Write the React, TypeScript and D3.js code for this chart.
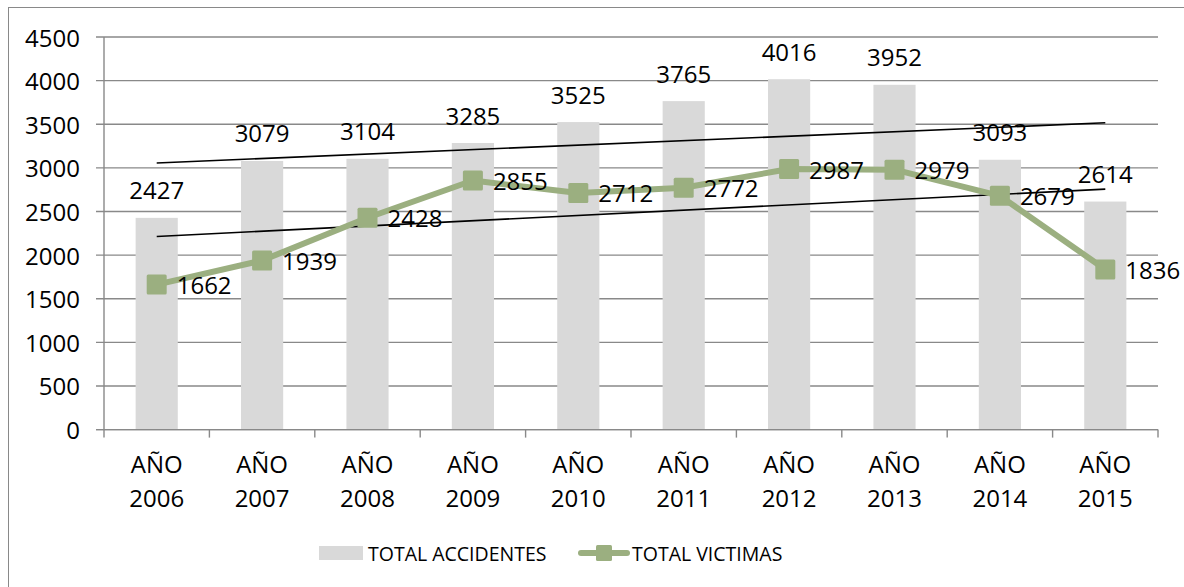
import React from "react";
import * as d3 from "d3";

const years = ["2006", "2007", "2008", "2009", "2010", "2011", "2012", "2013", "2014", "2015"];
const accidentes = [2427, 3079, 3104, 3285, 3525, 3765, 4016, 3952, 3093, 2614];
const victimas = [1662, 1939, 2428, 2855, 2712, 2772, 2987, 2979, 2679, 1836];
const yTicks = [0, 500, 1000, 1500, 2000, 2500, 3000, 3500, 4000, 4500];
const legendLabels = ["TOTAL ACCIDENTES", "TOTAL VICTIMAS"];

const W = 1184;
const H = 587;
const FONT = "'Open Sans', sans-serif";
const GRID = "#898989";
const BAR = "#D9D9D9";
const GREEN = "#9BAF80";

function regression(vals: number[]) {
  const n = vals.length;
  const xs = vals.map((_, i) => i + 1);
  const mx = d3.mean(xs)!;
  const my = d3.mean(vals)!;
  let sxy = 0, sxx = 0;
  xs.forEach((x, i) => {
    sxy += (x - mx) * (vals[i] - my);
    sxx += (x - mx) * (x - mx);
  });
  const slope = sxy / sxx;
  const b = my - slope * mx;
  return [b + slope * 1, b + slope * n];
}

export default function App() {
  const left = 104, right = 1158, top = 37, bottom = 429.6;
  const x = d3.scaleBand<string>().domain(years).range([left, right]).paddingInner(0.6).paddingOuter(0.3);
  const y = d3.scaleLinear().domain([0, 4500]).range([bottom, top]);
  const cx = (yr: string) => (x(yr) as number) + x.bandwidth() / 2;
  const step = x.step();
  const line = d3.line<number>().x((_, i) => cx(years[i])).y((v) => y(v));
  const trA = regression(accidentes);
  const trV = regression(victimas);
  const x0 = cx(years[0]);
  const x1 = cx(years[years.length - 1]);
  const ms = 20;

  return (
    <svg width={W} height={H} style={{ position: "absolute", left: 0, top: 0, background: "#fff" }} fontFamily={FONT}>
      <rect x={8.5} y={7.5} width={W + 20} height={H + 20} fill="#fff" stroke={GRID} strokeWidth={1} />
      {/* gridlines + y ticks */}
      {yTicks.map((t) => (
        <g key={t}>
          <line x1={left - 8} x2={right} y1={y(t)} y2={y(t)} stroke={GRID} strokeWidth={1.4} />
          <text x={80} y={y(t)} textAnchor="end" dominantBaseline="central" fontSize={24} fill="#000">
            {t}
          </text>
        </g>
      ))}
      {/* y axis */}
      <line x1={left} x2={left} y1={top} y2={bottom} stroke={GRID} strokeWidth={1.4} />
      {/* x ticks */}
      {d3.range(years.length + 1).map((i) => (
        <line key={i} x1={left + i * step} x2={left + i * step} y1={bottom} y2={bottom + 8} stroke={GRID} strokeWidth={1.4} />
      ))}
      {/* bars */}
      {accidentes.map((v, i) => (
        <rect key={i} x={x(years[i])} y={y(v)} width={x.bandwidth()} height={y(0) - y(v)} fill={BAR} />
      ))}
      {/* x-axis line over bars */}
      <line x1={left - 8} x2={right} y1={bottom} y2={bottom} stroke={GRID} strokeWidth={1.4} />
      {/* trend lines */}
      <line x1={x0} x2={x1} y1={y(trA[0])} y2={y(trA[1])} stroke="#000" strokeWidth={1.6} />
      <line x1={x0} x2={x1} y1={y(trV[0])} y2={y(trV[1])} stroke="#000" strokeWidth={1.6} />
      {/* victims line */}
      <path d={line(victimas) || ""} fill="none" stroke={GREEN} strokeWidth={6} strokeLinejoin="round" />
      {victimas.map((v, i) => (
        <rect key={i} x={cx(years[i]) - ms / 2} y={y(v) - ms / 2} width={ms} height={ms} rx={1.5} fill={GREEN} />
      ))}
      {/* labels */}
      {accidentes.map((v, i) => (
        <text key={i} x={cx(years[i])} y={y(v) - 28} textAnchor="middle" dominantBaseline="central" fontSize={24} fill="#000">
          {v}
        </text>
      ))}
      {victimas.map((v, i) => (
        <text key={i} x={cx(years[i]) + 20} y={y(v)} textAnchor="start" dominantBaseline="central" fontSize={24} fill="#000">
          {v}
        </text>
      ))}
      {/* category labels */}
      {years.map((yr) => (
        <g key={yr}>
          <text x={cx(yr)} y={463} textAnchor="middle" dominantBaseline="central" fontSize={24} fill="#000">
            AÑO
          </text>
          <text x={cx(yr)} y={497} textAnchor="middle" dominantBaseline="central" fontSize={24} fill="#000">
            {yr}
          </text>
        </g>
      ))}
      {/* legend */}
      <rect x={319} y={546} width={44} height={14} fill={BAR} />
      <text x={368} y={553} dominantBaseline="central" fontSize={19.5} fill="#000">
        {legendLabels[0]}
      </text>
      <line x1={581} x2={627} y1={553} y2={553} stroke={GREEN} strokeWidth={6} strokeLinecap="round" />
      <rect x={596} y={545} width={16} height={16} rx={1.5} fill={GREEN} />
      <text x={632} y={553} dominantBaseline="central" fontSize={19.5} fill="#000">
        {legendLabels[1]}
      </text>
    </svg>
  );
}
